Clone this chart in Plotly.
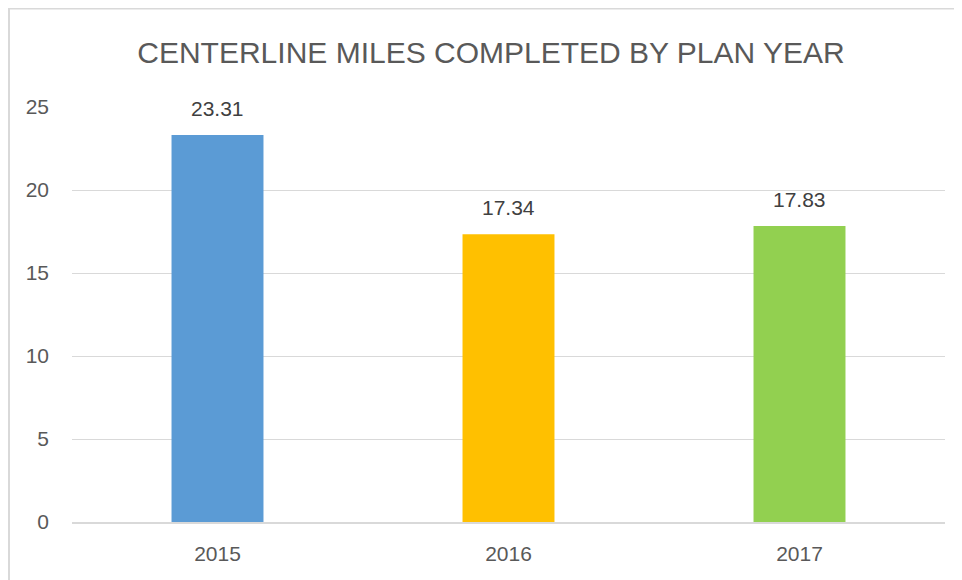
import plotly.graph_objects as go

years = [2015, 2016, 2017]
year_labels = ["2015", "2016", "2017"]
miles = [23.31, 17.34, 17.83]
bar_colors = ["#5B9BD5", "#FFC000", "#92D050"]
title_text = "CENTERLINE MILES COMPLETED BY PLAN YEAR"
y_ticks = [0, 5, 10, 15, 20, 25]

# page body has an 8px margin, so the figure is laid out in its own coordinates
W, H = 954, 572
L, R, T, B = 64, 17, 99, 58
pw = W - L - R
ph = H - T - B

FONT = "Liberation Sans, Arial, sans-serif"

fig = go.Figure(
    go.Bar(
        x=years,
        y=miles,
        width=0.316,
        marker=dict(color=bar_colors, line=dict(width=0)),
        hoverinfo="skip",
    )
)

annotations = [
    dict(
        x=yr, y=v, xref="x", yref="y", text=f"{v:.2f}", showarrow=False,
        yanchor="bottom", yshift=13,
        font=dict(family=FONT, size=21, color="#404040"),
    )
    for yr, v in zip(years, miles)
]

# chart-area border
shapes = [
    dict(
        type="rect", xref="paper", yref="paper",
        x0=(1 - L) / pw, x1=(W + 20 - L) / pw,
        y0=-(B + 20) / ph, y1=(H - B - 0.5) / ph,
        line=dict(color="#D9D9D9", width=2), fillcolor="rgba(0,0,0,0)", layer="below",
    )
]

fig.update_layout(
    width=W, height=H,
    margin=dict(l=L, r=R, t=T, b=B, autoexpand=False),
    paper_bgcolor="white", plot_bgcolor="white",
    showlegend=False,
    title=dict(
        text=title_text, x=483 / W, xanchor="center", xref="container",
        y=1 - 55 / H, yanchor="bottom", yref="container",
        font=dict(family=FONT, size=30, color="#595959"),
    ),
    font=dict(family=FONT, size=21, color="#595959"),
    annotations=annotations,
    shapes=shapes,
)

fig.update_yaxes(
    range=[0, 25], tickvals=y_ticks, showgrid=True, gridcolor="#D9D9D9", gridwidth=1,
    zeroline=False, showline=False, ticks="", ticklabelstandoff=22, automargin=False,
    tickfont=dict(size=21, color="#595959"), fixedrange=True,
)
fig.update_xaxes(
    type="linear", range=[2014.5, 2017.5], tickvals=years, ticktext=year_labels,
    showgrid=False, zeroline=False, showline=True, linecolor="#D9D9D9", linewidth=2,
    ticks="", ticklabelstandoff=12, automargin=False,
    tickfont=dict(size=21, color="#595959"), fixedrange=True,
)

fig.write_html("out.html")
